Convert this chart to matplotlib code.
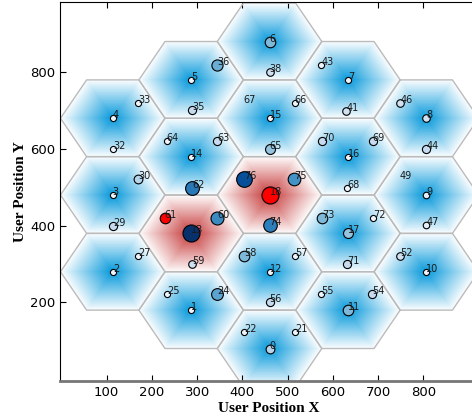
import numpy as np
import matplotlib
matplotlib.use('Agg')
import matplotlib.pyplot as plt
import matplotlib.tri as mtri
from matplotlib.colors import LinearSegmentedColormap

# hexagonal cells, centres (inter-site distance 200)
cell_x = [460.0, 286.8, 113.6, 113.6, 113.6, 286.8, 460.0, 633.2, 806.4, 806.4,
          806.4, 633.2, 460.0, 286.8, 286.8, 460.0, 633.2, 633.2, 460.0]
cell_y = [80, 180, 280, 480, 680, 780, 880, 780, 680, 480,
          280, 180, 280, 380, 580, 680, 580, 380, 480]
hot_cells = [13, 18]
cell_radius = 115.5

# users
user_id = list(range(19)) + [21, 22, 24, 25, 27, 29, 30, 32, 33, 35, 36, 38, 41, 43,
                             44, 46, 47, 49, 52, 54, 55, 56, 57, 58, 59, 60, 61, 62,
                             63, 64, 65, 66, 67, 68, 69, 70, 71, 72, 73, 74, 75, 76]
user_x = cell_x + [516, 404, 345, 233, 169, 114, 169, 114, 169, 289, 345, 460, 630, 574,
                   806, 749, 806, 747, 749, 686, 574, 460, 516, 404, 289, 345, 228, 289,
                   345, 233, 460, 516, 402, 632, 688, 577, 632, 688, 577, 460, 515, 404]
user_y = cell_y + [122, 122, 221, 221, 321, 400, 521, 600, 719, 701, 818, 801, 700, 820,
                   601, 720, 401, 522, 321, 221, 221, 202, 321, 321, 301, 419, 419, 499,
                   621, 621, 601, 720, 721, 499, 620, 620, 301, 421, 419, 401, 521, 521]
user_level = [0.3, 0.05, 0.05, 0.05, 0.05, 0.05, 0.45, 0.05, 0.2, 0.1,
              0.05, 0.45, 0.05, 1.0, 0.05, 0.05, 0.05, 0.4, 1.0] + \
             [0.05, 0.05, 0.55, 0.05, 0.05, 0.25, 0.3, 0.05, 0.05, 0.25, 0.5, 0.2, 0.2, 0.05,
              0.25, 0.2, 0.1, 0.0, 0.2, 0.25, 0.05, 0.25, 0.05, 0.45, 0.2, 0.65, 0.45, 0.72,
              0.25, 0.05, 0.4, 0.05, 0.0, 0.05, 0.25, 0.25, 0.25, 0.05, 0.45, 0.7, 0.62, 0.88]
red_users = [18, 61]
label_only = [49, 67]

blue_map = LinearSegmentedColormap.from_list(
    'cellblue', [(0, '#ffffff'), (0.3, '#5ec3ef'), (0.65, '#12a2e1'), (1, '#0096da')])
red_map = LinearSegmentedColormap.from_list(
    'cellred', [(0, '#ffffff'), (0.3, '#e7a9a9'), (0.65, '#cf5656'), (1, '#c43232')])


def hex_mesh(idx):
    px, py, tris, vals = [], [], [], []
    ang = np.deg2rad(np.arange(0, 360, 60))
    for i in idx:
        base = len(px)
        px.append(cell_x[i]); py.append(cell_y[i]); vals.append(1.0)
        for a in ang:
            px.append(cell_x[i] + cell_radius * np.cos(a))
            py.append(cell_y[i] + cell_radius * np.sin(a))
            vals.append(0.0)
        for k in range(6):
            tris.append([base, base + 1 + k, base + 1 + (k + 1) % 6])
    return mtri.Triangulation(px, py, tris), np.array(vals)


fig = plt.figure(figsize=(4.72, 4.19), dpi=100)
ax = fig.add_axes([0.1271, 0.0895, 0.885, 0.9057])

cold = [i for i in range(len(cell_x)) if i not in hot_cells]
tri, v = hex_mesh(cold)
ax.tripcolor(tri, v, shading='gouraud', cmap=blue_map, vmin=0, vmax=1, zorder=1)
tri, v = hex_mesh(hot_cells)
ax.tripcolor(tri, v, shading='gouraud', cmap=red_map, vmin=0, vmax=1, zorder=1)

ang = np.deg2rad(np.arange(0, 361, 60))
for cx, cy in zip(cell_x, cell_y):
    ax.plot(cx + cell_radius * np.cos(ang), cy + cell_radius * np.sin(ang),
            color='#bbbbbb', lw=1, zorder=2)

blues = plt.get_cmap('Blues')
for uid, ux, uy, lv in zip(user_id, user_x, user_y, user_level):
    if uid not in label_only:
        col = 'red' if uid in red_users else blues(lv)
        ax.scatter(ux, uy, s=18 + 132 * lv ** 1.5, color=col, edgecolors='black',
                   linewidths=0.8, zorder=3)
    ax.text(ux, uy, str(uid), fontsize=7, color='#1a1a1a', zorder=4)

ax.set_xlim(-3, 920)
ax.set_ylim(-6, 983)
ax.set_xticks([100, 200, 300, 400, 500, 600, 700, 800])
ax.set_yticks([200, 400, 600, 800])
ax.tick_params(direction='in', top=True, right=False, length=4, labelsize=9.5)
ax.spines['bottom'].set_color('#777777')
ax.spines['bottom'].set_linewidth(2)
ax.spines['right'].set_visible(False)
ax.set_xlabel('User Position X', fontfamily='Liberation Serif', fontweight='bold',
              fontsize=11, labelpad=2)
ax.set_ylabel('User Position Y', fontfamily='Liberation Serif', fontweight='bold',
              fontsize=11, labelpad=2)

fig.savefig('out.png', dpi=100)
